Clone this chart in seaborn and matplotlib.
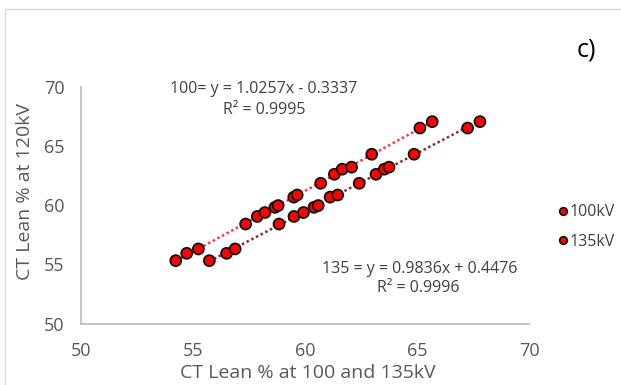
import matplotlib
matplotlib.use("Agg")
import matplotlib.pyplot as plt
from matplotlib.lines import Line2D
from matplotlib.patches import Rectangle
import numpy as np
import pandas as pd
import seaborn as sns

# CT lean % measured at 120 kV (shared y for both series)
lean_120kv = [55.32, 55.94, 56.31, 58.41, 59.05, 59.38, 59.82, 59.97, 60.68,
              60.86, 61.85, 62.61, 63.04, 63.21, 64.30, 66.51, 67.05]
# CT lean % measured at 100 kV and 135 kV
lean_100kv = [54.23, 54.72, 55.24, 57.35, 57.87, 58.21, 58.66, 58.80, 59.50,
              59.65, 60.70, 61.31, 61.66, 62.08, 62.98, 65.13, 65.68]
lean_135kv = [55.73, 56.50, 56.88, 58.84, 59.51, 59.93, 60.40, 60.59, 61.12,
              61.46, 62.42, 63.17, 63.54, 63.75, 64.87, 67.26, 67.81]

series_names = ["100kV", "135kV"]
fit_prefix = ["100=", "135 ="]
fit_slopes = [1.0257, 0.9836]
fit_intercepts = [-0.3337, 0.4476]
fit_r2 = [0.9995, 0.9996]
axis_ticks = [50, 55, 60, 65, 70]

W, H = 621, 385
sns.set_style("white")
plt.rcParams["font.family"] = ["Open Sans", "DejaVu Sans"]

fig = plt.figure(figsize=(W / 100, H / 100), dpi=100)
ax = fig.add_axes([81 / W, 1 - 323.7 / H, 448 / W, 237 / H])

df = pd.DataFrame({
    "x": lean_100kv + lean_135kv,
    "y": lean_120kv + lean_120kv,
    "series": [series_names[0]] * len(lean_100kv) + [series_names[1]] * len(lean_135kv),
})

# Linear trendlines over each series' x range
line_colors = ["#FF3B3B", "#8E2A2A"]
for xs_list, m, b, c in zip([lean_100kv, lean_135kv], fit_slopes, fit_intercepts, line_colors):
    xs = np.array([min(xs_list), max(xs_list)])
    ax.plot(xs, m * xs + b, linestyle=(0, (1, 1.1)), linewidth=1.8, color=c, zorder=2)

sns.scatterplot(data=df, x="x", y="y", hue="series",
                palette={series_names[0]: "#FF0000", series_names[1]: "#FF0000"},
                s=62, edgecolor="#111111", linewidth=1.3, ax=ax, zorder=3, legend=False)

ax.set_xlim(50, 70)
ax.set_ylim(50, 70)
ax.set_xticks(axis_ticks)
ax.set_yticks(axis_ticks)
ax.set_xlabel("")
ax.set_ylabel("")
ax.tick_params(axis="both", length=0, labelsize=13, colors="#595959")
ax.tick_params(axis="x", pad=13)
ax.tick_params(axis="y", pad=12)
for side in ["top", "right"]:
    ax.spines[side].set_visible(False)
for side in ["left", "bottom"]:
    ax.spines[side].set_color("#BFBFBF")
    ax.spines[side].set_linewidth(1.3)
ax.grid(False)

# Fit equations
text_color = "#404040"
ax.text(58.17, 69.8, f"{fit_prefix[0]} y = {fit_slopes[0]}x - {abs(fit_intercepts[0])}",
        ha="center", va="center", fontsize=11.5, color=text_color)
ax.text(58.17, 68.0, f"R² = {fit_r2[0]}", ha="center", va="center", fontsize=11.5, color=text_color)
ax.text(65.11, 54.6, f"{fit_prefix[1]} y = {fit_slopes[1]}x + {fit_intercepts[1]}",
        ha="center", va="center", fontsize=11.5, color=text_color)
ax.text(65.07, 53.0, f"R² = {fit_r2[1]}", ha="center", va="center", fontsize=11.5, color=text_color)

# Axis titles
fig.text(307.5 / W, 1 - 373 / H, "CT Lean % at 100 and 135kV", ha="center", va="center",
         fontsize=14, color="#595959")
fig.text(25 / W, 1 - 192 / H, "CT Lean % at 120kV", ha="center", va="center",
         rotation=90, fontsize=14, color="#595959")

# Panel tag
fig.text(586 / W, 1 - 50 / H, "c)", ha="center", va="center", fontsize=18, color="#000000")

# Legend
handles = [Line2D([], [], linestyle="none", marker="o", markersize=5.5,
                  markerfacecolor="#FF0000", markeredgecolor="#111111", markeredgewidth=1.2)
           for _ in series_names]
fig.legend(handles, series_names, loc="center left", bbox_to_anchor=(550 / W, 1 - 227 / H),
           frameon=False, handlelength=0.6, handletextpad=0.15, labelspacing=0.85,
           fontsize=11.5, labelcolor="#404040", borderpad=0)

# Chart frame
fig.patches.append(Rectangle((5 / W, -0.5), 2, 1.5 - 9 / H, transform=fig.transFigure,
                             fill=False, edgecolor="#D9D9D9", linewidth=1.0))

fig.savefig("out.png", dpi=100)
